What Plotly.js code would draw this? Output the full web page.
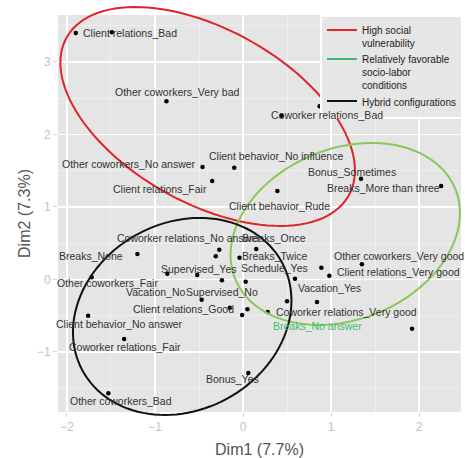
<!DOCTYPE html>
<html>
<head>
<meta charset="utf-8">
<script src="https://cdn.plot.ly/plotly-3.0.1.min.js"></script>
<style>html,body{margin:0;padding:0;background:#fff;}#chart{width:465px;height:458px;}</style>
</head>
<body>
<div id="chart"></div>
<script>
// ---- data ----
var labels = [
  "Client relations_Bad", "", "Other coworkers_Very bad", "Coworker relations_Bad", "",
  "Other coworkers_No answer", "Client behavior_No influence", "Client relations_Fair",
  "Client behavior_Rude", "Bonus_Sometimes", "Breaks_More than three", "Breaks_None",
  "Coworker relations_No answer", "", "Breaks_Once", "Breaks_Twice", "Supervised_Yes", "",
  "Other coworkers_Fair", "Schedule_Yes", "Client relations_Very good", "Other coworkers_Very good",
  "Vacation_Yes", "", "Supervised_No", "Vacation_No", "Client relations_Good", "", "",
  "Coworker relations_Very good", "", "", "Breaks_No answer", "Bonus_Yes",
  "Client behavior_No answer", "Coworker relations_Fair", "Other coworkers_Bad"
];
var dim1 = [-1.90, -1.49, -0.87, 0.87, 0.44, -0.46, -0.10, -0.35, 0.39, 1.34, 2.25, -1.20,
  -0.27, -0.31, 0.15, -0.04, -0.52, -0.86, -1.72, 0.89, 0.98, 1.35, 0.59, -0.24, 0.03, -0.47,
  -0.15, 0.05, -0.01, 0.28, 0.50, 0.84, 1.92, 0.06, -1.76, -1.35, -1.53];
var dim2 = [3.40, 3.41, 2.46, 2.39, 2.26, 1.55, 1.54, 1.36, 1.22, 1.39, 1.29, 0.35,
  0.41, 0.32, 0.42, 0.30, 0.06, 0.08, 0.03, 0.16, 0.05, 0.21, 0.01, -0.01, -0.03, -0.28,
  -0.39, -0.41, -0.49, -0.45, -0.30, -0.31, -0.68, -1.29, -0.50, -0.82, -1.57];

// groups (ellipses): centre, half-extent along Dim1 / Dim2, correlation
var groupNames = ["High social<br>vulnerability", "Relatively favorable<br>socio-labor<br>conditions", "Hybrid configurations"];
var ellipseCx = [-0.402, 1.161, -0.691];
var ellipseCy = [2.248, 0.628, -0.510];
var ellipseRx = [1.673, 1.303, 1.241];
var ellipseRy = [1.510, 1.255, 1.359];
var ellipseRho = [-0.492, 0.23, 0.16];

var xTicks = [-2, -1, 0, 1, 2];
var yTicks = [-1, 0, 1, 2, 3];

// ---- label placement (layout only) ----
var labelAnchor = ["left","","center","center","","right","center","right","center","center","right","right",
  "left","","center","center","center","","center","right","left","center","center","","center","center",
  "center","","","left","","","right","center","center","center","center"];
var labelDx = [5,0,11,7,0,-5,42,-3,2,-9,1,-12,-104,0,18,35,2,0,16,-11,6,37,35,0,-24,-46,-46,0,0,6,0,0,-48,-16,31,1,13];
var labelDy = [0,0,9,-9,0,3,12,-8,-15,7,-2,-2,12,0,11,2,6,0,-6,0,4,8,-9,0,-10,8,-1,0,0,0,0,0,3,-6,-8,-8,-8];

var ellipseColors = ["#e0242b", "#86c95a", "#111111"];
var legendColors = ["#e0242b", "#3dba6f", "#111111"];
var specialLabelColor = {"Breaks_No answer": "#3dbb6e"};

var xRange = [-2.102, 2.476];
var yRange = [-1.828, 3.648];

// ---- build ----
var traces = [];
for (var g = 0; g < groupNames.length; g++) {
  traces.push({x: [null], y: [null], mode: "lines", name: groupNames[g],
    line: {color: legendColors[g], width: 2}, showlegend: true, hoverinfo: "skip"});
}
traces.push({x: dim1, y: dim2, mode: "markers", type: "scatter", showlegend: false,
  marker: {color: "#000", size: 4.5, symbol: "circle"}, cliponaxis: false});

function toPaperX(v) { return (v - xRange[0]) / (xRange[1] - xRange[0]); }
function toPaperY(v) { return (v - yRange[0]) / (yRange[1] - yRange[0]); }

var shapes = [];
// dotted reference lines at 0
shapes.push({type: "line", xref: "x", yref: "paper", x0: 0, x1: 0, y0: 0, y1: 1, layer: "below",
  line: {color: "#ffffff", width: 1.6, dash: "dot"}});
shapes.push({type: "line", xref: "paper", yref: "y", x0: 0, x1: 1, y0: 0, y1: 0, layer: "below",
  line: {color: "#ffffff", width: 1.6, dash: "dot"}});
for (var g = 0; g < groupNames.length; g++) {
  var d = "";
  var s = Math.sqrt(1 - ellipseRho[g] * ellipseRho[g]);
  for (var i = 0; i <= 120; i++) {
    var t = 2 * Math.PI * i / 120;
    var ex = ellipseCx[g] + ellipseRx[g] * Math.cos(t);
    var ey = ellipseCy[g] + ellipseRy[g] * (ellipseRho[g] * Math.cos(t) + s * Math.sin(t));
    d += (i === 0 ? "M" : "L") + toPaperX(ex).toFixed(5) + "," + toPaperY(ey).toFixed(5);
  }
  d += "Z";
  shapes.push({type: "path", xref: "paper", yref: "paper", path: d, layer: "above",
    line: {color: ellipseColors[g], width: 2}});
}

var annotations = [];
for (var i = 0; i < labels.length; i++) {
  if (!labels[i]) continue;
  annotations.push({x: dim1[i], y: dim2[i], xref: "x", yref: "y", text: labels[i], showarrow: false,
    xanchor: labelAnchor[i], yanchor: "middle", xshift: labelDx[i], yshift: labelDy[i],
    font: {family: "Liberation Sans, Arial, sans-serif", size: 10.5,
      color: specialLabelColor[labels[i]] || "#333333"}});
}

var layout = {
  width: 465, height: 458,
  margin: {l: 58, r: 3, t: 15, b: 46, pad: 0},
  paper_bgcolor: "#ffffff",
  plot_bgcolor: "#e5e5e5",
  font: {family: "Liberation Sans, Arial, sans-serif"},
  xaxis: {range: xRange, tickvals: xTicks, ticks: "outside", ticklen: 4, tickcolor: "#d4d4d4",
    showgrid: true, gridcolor: "#ffffff", gridwidth: 1.3, zeroline: false, showline: false,
    minor: {dtick: 0.5, showgrid: true, gridcolor: "#f5f5f5", gridwidth: 0.6},
    tickfont: {size: 12, color: "#c2c2c2"},
    title: {text: "Dim1 (7.7%)", font: {size: 16, color: "#555555"}, standoff: 10}},
  yaxis: {range: yRange, tickvals: yTicks, ticks: "outside", ticklen: 4, tickcolor: "#d4d4d4",
    showgrid: true, gridcolor: "#ffffff", gridwidth: 1.3, zeroline: false, showline: false,
    minor: {dtick: 0.5, showgrid: true, gridcolor: "#f5f5f5", gridwidth: 0.6},
    tickfont: {size: 12, color: "#c2c2c2"},
    title: {text: "Dim2 (7.3%)", font: {size: 16, color: "#555555"}, standoff: 2}},
  legend: {x: 1.0025, xanchor: "right", y: 1.0, yanchor: "top", bgcolor: "#e6e6e6",
    bordercolor: "#ffffff", borderwidth: 2, valign: "top", itemwidth: 30, tracegroupgap: 0,
    font: {size: 10, color: "#222222"}},
  shapes: shapes,
  annotations: annotations,
  showlegend: true
};

Plotly.newPlot("chart", traces, layout, {displayModeBar: false, staticPlot: true});
</script>
</body>
</html>
